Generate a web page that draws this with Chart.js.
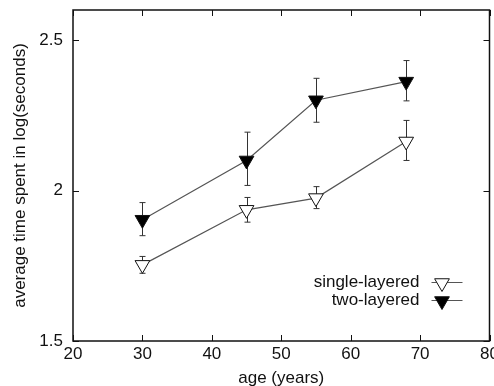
<!DOCTYPE html>
<html><head><meta charset="utf-8">
<script src="https://cdn.jsdelivr.net/npm/chart.js@4/dist/chart.umd.min.js"></script>
<style>
html,body{margin:0;padding:0;background:#fff;overflow:hidden;width:494px;height:386px}
#wrap{width:494px;height:389px;position:relative;overflow:hidden}
canvas{display:block}
</style></head><body>
<div id="wrap"><canvas id="c" width="499" height="389"></canvas></div>
<script>
const ages = [30, 45, 55, 68];
const singleMean = [1.753, 1.936, 1.975, 2.163];
const singleLow  = [1.725, 1.895, 1.940, 2.100];
const singleHigh = [1.781, 1.977, 2.013, 2.233];
const twoMean = [1.903, 2.100, 2.300, 2.362];
const twoLow  = [1.850, 2.017, 2.227, 2.298];
const twoHigh = [1.960, 2.194, 2.373, 2.432];
const xTicks = [20, 30, 40, 50, 60, 70, 80];
const yTicks = [1.5, 2, 2.5];
const seriesLabels = ['single-layered', 'two-layered'];

const FONT = '"Liberation Sans", Arial, Helvetica, sans-serif';

function triangleDown(ctx, x, y, r, fill) {
  ctx.beginPath();
  ctx.moveTo(x, y + r);
  ctx.lineTo(x - r * Math.sqrt(3) / 2, y - r / 2);
  ctx.lineTo(x + r * Math.sqrt(3) / 2, y - r / 2);
  ctx.closePath();
  ctx.fillStyle = fill;
  ctx.fill();
  ctx.strokeStyle = '#111';
  ctx.lineWidth = 1;
  ctx.stroke();
}

const gnuplotPlugin = {
  id: 'gnu',
  beforeDatasetsDraw(chart) {
    const ctx = chart.ctx, xs = chart.scales.x, ys = chart.scales.y;
    ctx.save();
    ctx.strokeStyle = '#333';
    ctx.lineWidth = 1;
    chart.data.datasets.forEach(ds => {
      ds.data.forEach((p, i) => {
        const px = Math.round(xs.getPixelForValue(p.x)) + 0.5;
        const y1 = ys.getPixelForValue(ds.errLow[i]);
        const y2 = ys.getPixelForValue(ds.errHigh[i]);
        ctx.beginPath();
        ctx.moveTo(px, y1); ctx.lineTo(px, y2);
        ctx.moveTo(px - 3, y1); ctx.lineTo(px + 3, y1);
        ctx.moveTo(px - 3, y2); ctx.lineTo(px + 3, y2);
        ctx.stroke();
      });
    });
    ctx.restore();
  },
  afterDraw(chart) {
    const ctx = chart.ctx, ca = chart.chartArea, xs = chart.scales.x, ys = chart.scales.y;
    ctx.save();
    ctx.strokeStyle = '#111';
    ctx.lineWidth = 1.5;
    ctx.strokeRect(ca.left, ca.top, ca.right - ca.left, ca.bottom - ca.top);
    ctx.lineWidth = 1;
    ctx.beginPath();
    xTicks.forEach(v => {
      const px = Math.round(xs.getPixelForValue(v)) + 0.5;
      ctx.moveTo(px, ca.bottom); ctx.lineTo(px, ca.bottom - 6);
      ctx.moveTo(px, ca.top); ctx.lineTo(px, ca.top + 6);
    });
    yTicks.forEach(v => {
      const py = Math.round(ys.getPixelForValue(v)) + 0.5;
      ctx.moveTo(ca.left, py); ctx.lineTo(ca.left + 6, py);
      ctx.moveTo(ca.right, py); ctx.lineTo(ca.right - 6, py);
    });
    ctx.stroke();
    // legend
    const tx = ca.right - 70;
    ctx.font = '17px ' + FONT;
    ctx.textAlign = 'right';
    ctx.textBaseline = 'middle';
    chart.data.datasets.forEach((ds, i) => {
      const y = ca.bottom - 59 + i * 18;
      ctx.fillStyle = '#111';
      ctx.fillText(ds.label, tx, y);
      ctx.strokeStyle = '#555';
      ctx.lineWidth = 1;
      ctx.beginPath();
      ctx.moveTo(tx + 12, y + 0.5); ctx.lineTo(tx + 43, y + 0.5);
      ctx.stroke();
      triangleDown(ctx, tx + 22.5, y + 1, 8.5, ds.pointBackgroundColor);
    });
    ctx.restore();
  }
};

new Chart(document.getElementById('c'), {
  type: 'line',
  data: {
    datasets: [
      {
        label: seriesLabels[0],
        data: ages.map((a, i) => ({ x: a, y: singleMean[i] })),
        errLow: singleLow, errHigh: singleHigh,
        borderColor: '#555', borderWidth: 1.2,
        pointStyle: 'triangle', rotation: 180, pointRadius: 8.5,
        pointBackgroundColor: '#fff', pointBorderColor: '#111', pointBorderWidth: 1,
        tension: 0
      },
      {
        label: seriesLabels[1],
        data: ages.map((a, i) => ({ x: a, y: twoMean[i] })),
        errLow: twoLow, errHigh: twoHigh,
        borderColor: '#555', borderWidth: 1.2,
        pointStyle: 'triangle', rotation: 180, pointRadius: 8.5,
        pointBackgroundColor: '#000', pointBorderColor: '#111', pointBorderWidth: 1,
        tension: 0
      }
    ]
  },
  options: {
    responsive: false,
    animation: false,
    events: [],
    layout: { padding: { top: 10, right: 5, left: 0, bottom: 0 } },
    plugins: { legend: { display: false }, tooltip: { enabled: false } },
    scales: {
      x: {
        type: 'linear', min: 20, max: 80,
        afterBuildTicks: s => { s.ticks = xTicks.map(v => ({ value: v })); },
        afterFit: s => { s.height = 48; s.paddingRight = 0; },
        grid: { display: false, drawTicks: false },
        border: { display: false },
        ticks: { color: '#111', font: { family: FONT, size: 17 }, padding: 3, maxRotation: 0, callback: v => String(v) },
        title: { display: true, text: 'age (years)', color: '#111', font: { family: FONT, size: 17 }, padding: { top: 0, bottom: 0 } }
      },
      y: {
        type: 'linear', min: 1.5, max: 2.6,
        afterBuildTicks: s => { s.ticks = yTicks.map(v => ({ value: v })); },
        afterFit: s => { s.width = 73; s.paddingTop = 0; },
        grid: { display: false, drawTicks: false },
        border: { display: false },
        ticks: { color: '#111', font: { family: FONT, size: 17 }, padding: 10, callback: v => String(v) },
        title: { display: true, text: 'average time spent in log(seconds)', color: '#111', font: { family: FONT, size: 17 }, padding: { top: 10, bottom: 0 } }
      }
    }
  },
  plugins: [gnuplotPlugin]
});
</script>
</body></html>
